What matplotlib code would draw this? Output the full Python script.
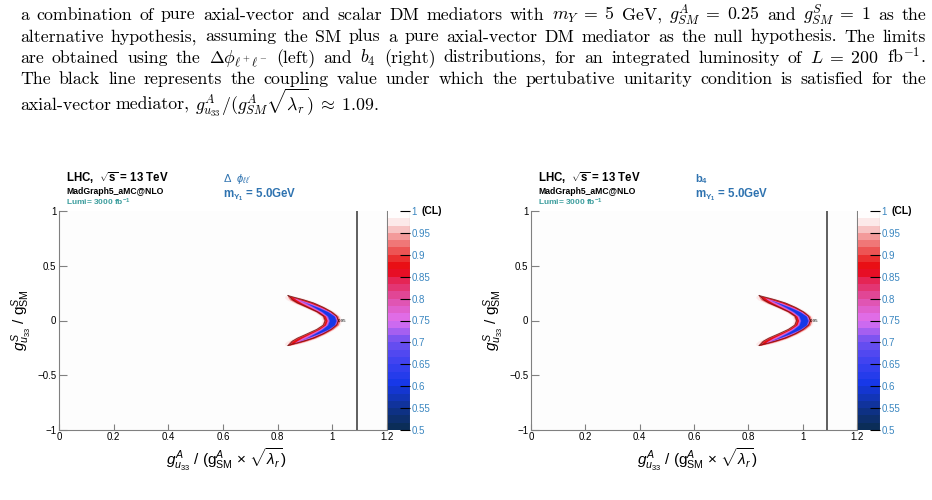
import re
import numpy as np
import matplotlib
matplotlib.use('Agg')
import matplotlib.pyplot as plt
from matplotlib.colors import LinearSegmentedColormap, BoundaryNorm
from matplotlib.cm import ScalarMappable

# ── FONTS ────────────────────────────────────────────────────
plt.rcParams['font.family'] = 'Liberation Sans'
plt.rcParams['mathtext.fontset'] = 'custom'
plt.rcParams['mathtext.rm'] = 'Liberation Sans'
plt.rcParams['mathtext.it'] = 'Liberation Sans:italic'
plt.rcParams['mathtext.bf'] = 'Liberation Sans:bold'

# ── COLORS ───────────────────────────────────────────────────
FRAME = '#808080'
TEAL = '#3d9e9e'
BLUE_TXT = '#2f73b0'
CBAR_TXT = '#3a86c0'
EDGE = '#6e1414'

# ── DATA ─────────────────────────────────────────────────────
caption_lines = [
    r"a combination of pure axial-vector and scalar DM mediators with $m_Y\;=\;5$ GeV, $g^A_{SM}\;=\;0.25$ and $g^S_{SM}\;=\;1$ as the",
    r"alternative hypothesis, assuming the SM plus a pure axial-vector DM mediator as the null hypothesis. The limits",
    r"are obtained using the $\Delta\phi_{\ell^+\ell^-}$ (left) and $b_4$ (right) distributions, for an integrated luminosity of $L\;=\;200$ fb$^{-1}$.",
    r"The black line represents the coupling value under which the pertubative unitarity condition is satisfied for the",
    r"axial-vector mediator, $g^A_{u_{33}}/(g^A_{SM}\sqrt{\lambda_r})\;\approx\;1.09$.",
]
caption_justify = [True, True, True, True, False]

x_ticks = [0, 0.2, 0.4, 0.6, 0.8, 1.0, 1.2]
x_labels = ['0', '0.2', '0.4', '0.6', '0.8', '1', '1.2']
y_ticks = [-1, -0.5, 0, 0.5, 1]
y_labels = ['\u22121', '\u22120.5', '0', '0.5', '1']
cl_ticks = [0.5, 0.55, 0.6, 0.65, 0.7, 0.75, 0.8, 0.85, 0.9, 0.95, 1.0]
cl_labels = ['0.5', '0.55', '0.6', '0.65', '0.7', '0.75', '0.8', '0.85', '0.9', '0.95', '1']
unitarity_limit = 1.09

panel_variable = [r"$\Delta$  $\phi_{\ell\ell'}$", r"$\mathbf{b}_\mathbf{4}$"]

# crescent of CL bins, sampled along gS (y); upper half mirrored
crescent_y_half = [0, 0.04, 0.08, 0.12, 0.16, 0.19, 0.21, 0.228]
band_cl = [0.97, 0.92, 0.87, 0.78, 0.70, 0.60]
band_shift = [0, 0, 0, 0.002, 0.003, 0.003]

dphi_center = [0.998, 0.992, 0.970, 0.938, 0.902, 0.873, 0.855, 0.838]
dphi_halfwidth = [
    [0.036, 0.036, 0.038, 0.042, 0.044, 0.040, 0.030, 0.010],
    [0.030, 0.030, 0.032, 0.035, 0.036, 0.029, 0.017, 0.002],
    [0.024, 0.024, 0.026, 0.029, 0.029, 0.020, 0.008, 0.0],
    [0.019, 0.019, 0.020, 0.020, 0.016, 0.007, 0.0, 0.0],
    [0.015, 0.015, 0.014, 0.011, 0.005, 0.0, 0.0, 0.0],
    [0.012, 0.012, 0.010, 0.006, 0.0, 0.0, 0.0, 0.0],
]

b4_center = [1.003, 0.997, 0.975, 0.943, 0.906, 0.876, 0.858, 0.840]
b4_halfwidth = [
    [0.037, 0.037, 0.039, 0.043, 0.045, 0.041, 0.031, 0.010],
    [0.031, 0.031, 0.033, 0.036, 0.037, 0.030, 0.018, 0.002],
    [0.025, 0.025, 0.027, 0.030, 0.030, 0.021, 0.009, 0.0],
    [0.020, 0.020, 0.021, 0.021, 0.017, 0.008, 0.0, 0.0],
    [0.016, 0.016, 0.015, 0.012, 0.006, 0.0, 0.0, 0.0],
    [0.013, 0.013, 0.011, 0.007, 0.002, 0.0, 0.0, 0.0],
]

# ROOT-like CL palette
pal_pos = [0.0, 0.1, 0.2, 0.3, 0.4, 0.5, 0.6, 0.7, 0.74, 0.8, 0.86, 0.9, 0.94, 0.97, 1.0]
pal_col = ['#0b2d58', '#10339a', '#1638e8', '#3c42f0', '#7050f0', '#e070f0',
           '#e050a8', '#e61e48', '#e80008', '#ea3535', '#f07878', '#f4a0a0',
           '#f8d0d0', '#fdeeee', '#ffffff']

# ── FIGURE ───────────────────────────────────────────────────
W, H = 932, 500
fig = plt.figure(figsize=(W / 100, H / 100), dpi=100)
fig.patch.set_facecolor('white')

cmap = LinearSegmentedColormap.from_list('cl', list(zip(pal_pos, pal_col)), N=256)
levels = np.linspace(0.5, 1.0, 31)
norm = BoundaryNorm(levels, cmap.N)

# ── CAPTION TEXT (justified) ─────────────────────────────────
CAP_LEFT, CAP_RIGHT = 20, 926
caption_base = [19.5, 41.5, 63, 84, 110]
renderer = fig.canvas.get_renderer()
for line, base, just in zip(caption_lines, caption_base, caption_justify):
    words = re.findall(r'\$[^$]*\$\S*|\S+', line)
    arts = [fig.text(0, 1 - base / H, w, fontsize=12.8, family='cmr10',
                     math_fontfamily='cm', va='baseline') for w in words]
    widths = [a.get_window_extent(renderer).width for a in arts]
    if just:
        gap = (CAP_RIGHT - CAP_LEFT - sum(widths)) / (len(words) - 1)
    else:
        gap = 5.0
    x = CAP_LEFT
    for a, w in zip(arts, widths):
        a.set_x(x / W)
        x += w + gap


# ── PANELS ───────────────────────────────────────────────────
def mirror(v, neg=False):
    v = np.asarray(v, dtype=float)
    return np.r_[(-v if neg else v)[:0:-1], v]


def draw_panel(left_px, width_px, center, halfwidth, var_label):
    ax = fig.add_axes([left_px / W, 70 / H, width_px / W, 219 / H])
    ax.set_facecolor('#fdfdfd')
    ax.set_xlim(0, 1.2)
    ax.set_ylim(-1, 1)

    yy = mirror(crescent_y_half, neg=True)
    cc = mirror(center)
    for cl, shift, hw in zip(band_cl, band_shift, halfwidth):
        hh = mirror(hw)
        ax.fill_betweenx(yy, cc + shift - hh, cc + shift + hh,
                         color=cmap(norm(cl)), lw=0, zorder=2)
        if cl == 0.87:
            ax.plot(cc - hh, yy, color=EDGE, lw=0.7, alpha=0.8, zorder=3)
            ax.plot(cc + hh, yy, color=EDGE, lw=0.7, alpha=0.8, zorder=3)
    ax.text(center[0] + 0.024, 0.0, '0.95', fontsize=3.2, color='black',
            ha='left', va='center', zorder=4)

    ax.axvline(unitarity_limit, color='#333333', lw=1.1, zorder=5)

    for side in ['left', 'bottom', 'right']:
        ax.spines[side].set_color(FRAME)
        ax.spines[side].set_linewidth(0.8)
    ax.spines['top'].set_visible(False)

    ax.set_xticks(x_ticks)
    ax.set_xticklabels(x_labels)
    ax.set_yticks(y_ticks)
    ax.set_yticklabels(y_labels)
    ax.tick_params(axis='x', direction='in', length=4.5, width=0.8,
                   color=FRAME, labelsize=7, pad=1.5, top=False)
    ax.tick_params(axis='y', direction='in', length=6, width=0.8,
                   color=FRAME, labelsize=7, pad=2, right=False)

    ax.text(0.51, -0.135,
            r"$g^{A}_{u_{33}}$ / (g$^{A}_{\mathrm{SM}}$ $\times$ $\sqrt{\lambda_{r}}$)",
            transform=ax.transAxes, ha='center', va='center', fontsize=11)
    ax.text(-0.113, 0.5, r"$g^{S}_{u_{33}}$ / g$^{S}_{\mathrm{SM}}$",
            transform=ax.transAxes, ha='center', va='center',
            rotation=90, fontsize=11)

    # headers
    x0 = (left_px + 7) / W
    fig.text(x0, 1 - 178 / H, r"LHC,  $\sqrt{\mathbf{s}}$ = 13 TeV",
             fontsize=8.3, fontweight='bold', va='center')
    fig.text(x0, 1 - 191 / H, "MadGraph5_aMC@NLO",
             fontsize=6.2, fontweight='bold', va='center')
    fig.text(x0, 1 - 202 / H, r"Lumi= 3000 fb$^{\mathbf{-1}}$",
             fontsize=6.0, fontweight='bold', color=TEAL, va='center')
    xv = (left_px + 164) / W
    fig.text(xv, 1 - 179 / H, var_label, fontsize=8, color=BLUE_TXT, va='center')
    fig.text(xv, 1 - 195 / H, r"$\mathbf{m}_{\mathbf{Y_1}}$ = 5.0GeV",
             fontsize=8.3, fontweight='bold', color=BLUE_TXT, va='center')

    # CL colour scale
    cax = fig.add_axes([(left_px + width_px + 1) / W, 70 / H, 22 / W, 219 / H])
    cb = fig.colorbar(ScalarMappable(norm=norm, cmap=cmap), cax=cax,
                      boundaries=levels, ticks=cl_ticks)
    cb.outline.set_visible(False)
    cb.ax.set_yticklabels(cl_labels)
    cb.ax.tick_params(direction='in', length=7, width=0.8, color='black',
                      labelsize=7, labelcolor=CBAR_TXT, pad=1)
    cb.ax.minorticks_off()
    cax.axvline(1.0, color=FRAME, lw=0.8)
    fig.text((left_px + width_px + 35) / W, 1 - 211 / H, "(CL)",
             fontsize=7.5, fontweight='bold', va='center')
    return ax


draw_panel(59, 328, dphi_center, dphi_halfwidth, panel_variable[0])
draw_panel(531, 326, b4_center, b4_halfwidth, panel_variable[1])

plt.savefig('out.png', dpi=100, facecolor='white')
